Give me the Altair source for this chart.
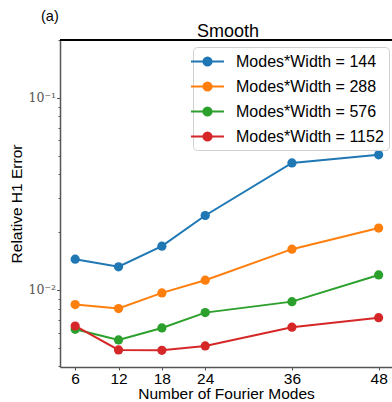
import altair as alt
import pandas as pd

modes = [6, 12, 18, 24, 36, 48]
series_names = ["Modes*Width = 144", "Modes*Width = 288", "Modes*Width = 576", "Modes*Width = 1152"]
err_144 = [0.01445, 0.0132, 0.0169, 0.0244, 0.0458, 0.0505]
err_288 = [0.00839, 0.0080, 0.00965, 0.01124, 0.0163, 0.0210]
err_576 = [0.00624, 0.00549, 0.00634, 0.00762, 0.00869, 0.01197]
err_1152 = [0.00649, 0.00487, 0.00485, 0.00511, 0.0064, 0.00717]
colors = ["#1f77b4", "#ff7f0e", "#2ca02c", "#d62728"]
y_ticks = [0.004, 0.005, 0.006, 0.007, 0.008, 0.009, 0.01,
           0.02, 0.03, 0.04, 0.05, 0.06, 0.07, 0.08, 0.09, 0.1, 0.2]
title_text = "Smooth"
panel_label = "(a)"

rows = []
for name, vals in zip(series_names, [err_144, err_288, err_576, err_1152]):
    for m, v in zip(modes, vals):
        rows.append({"modes": m, "err": v, "series": name})
df = pd.DataFrame(rows)

W, H = 332, 327

# legend symbol: short line with a circle in the middle
sym = ("M-2,0L-0.5,0M0.5,0L2,0"
       "M-0.5,0A0.5,0.5 0 1,1 0.5,0A0.5,0.5 0 1,1 -0.5,0Z")

color = alt.Color("series:N", sort=series_names,
                  scale=alt.Scale(domain=series_names, range=colors),
                  legend=alt.Legend(title=None, orient="none", legendX=133, legendY=7,
                                    labelFont="Liberation Sans", labelFontSize=16,
                                    labelColor="#000", symbolType=sym, symbolSize=272,
                                    symbolStrokeWidth=2, rowPadding=7, labelOffset=19,
                                    strokeColor="#d0d0d0", cornerRadius=4, padding=5,
                                    fillColor="white", symbolOpacity=1,
                                    labelLimit=300))

x = alt.X("modes:Q", scale=alt.Scale(domain=[3.9, 49.85], nice=False, zero=False),
          axis=alt.Axis(values=modes, title="Number of Fourier Modes", grid=False,
                        labelFont="Liberation Sans", labelFontSize=15.5, labelColor="#000",
                        titleFont="Liberation Sans", titleFontSize=15.5, titleFontWeight="normal",
                        titleColor="#000", titlePadding=0, labelPadding=1,
                        tickSize=3, tickColor="#555", domainColor="#555", domainWidth=1.5,
                        labelFlush=False))
y = alt.Y("err:Q", scale=alt.Scale(type="log", domain=[0.00397, 0.2], nice=False),
          axis=alt.Axis(values=y_ticks, title="Relative H1 Error", grid=False,
                        labelExpr="datum.value == 0.1 ? '10⁻¹' : (datum.value == 0.01 ? '10⁻²' : '')",
                        labelFont="DejaVu Serif", labelFontSize=12.5, labelColor="#555",
                        titleFont="Liberation Sans", titleFontSize=15.5, titleFontWeight="normal",
                        titleColor="#000", titlePadding=3, labelPadding=1,
                        tickSize={"condition": {"test": "datum.value == 0.1 || datum.value == 0.01", "value": 3.5}, "value": 2},
                        tickColor="#555", domainColor="#555", domainWidth=1.5))

lines = alt.Chart(df).mark_line(strokeWidth=2).encode(x=x, y=y, color=color)
points = alt.Chart(df).mark_point(filled=True, size=85, opacity=1).encode(x=x, y=y, color=color)

top = alt.Chart(df).mark_rule(color="#000", strokeWidth=1).encode(
    x=alt.value(0), x2=alt.value(W), y=alt.value(0))

title_mark = alt.Chart(pd.DataFrame({"t": [title_text]})).mark_text(
    font="Liberation Sans", fontSize=18, align="center", baseline="alphabetic", color="#000"
).encode(text="t:N", x=alt.value(168), y=alt.value(-3))

label_mark = alt.Chart(pd.DataFrame({"t": [panel_label]})).mark_text(
    font="Liberation Sans", fontSize=14.5, align="left", baseline="middle", color="#000"
).encode(text="t:N", x=alt.value(-19), y=alt.value(-23))

chart = alt.layer(lines, points, top, title_mark, label_mark).properties(
    width=W, height=H,
    autosize=alt.AutoSizeParams(type="none"),
    padding={"left": 60, "top": 40, "right": 0, "bottom": 35},
).configure_view(stroke=None)

chart.save("out.html", embed_options={"renderer": "svg", "actions": False})
